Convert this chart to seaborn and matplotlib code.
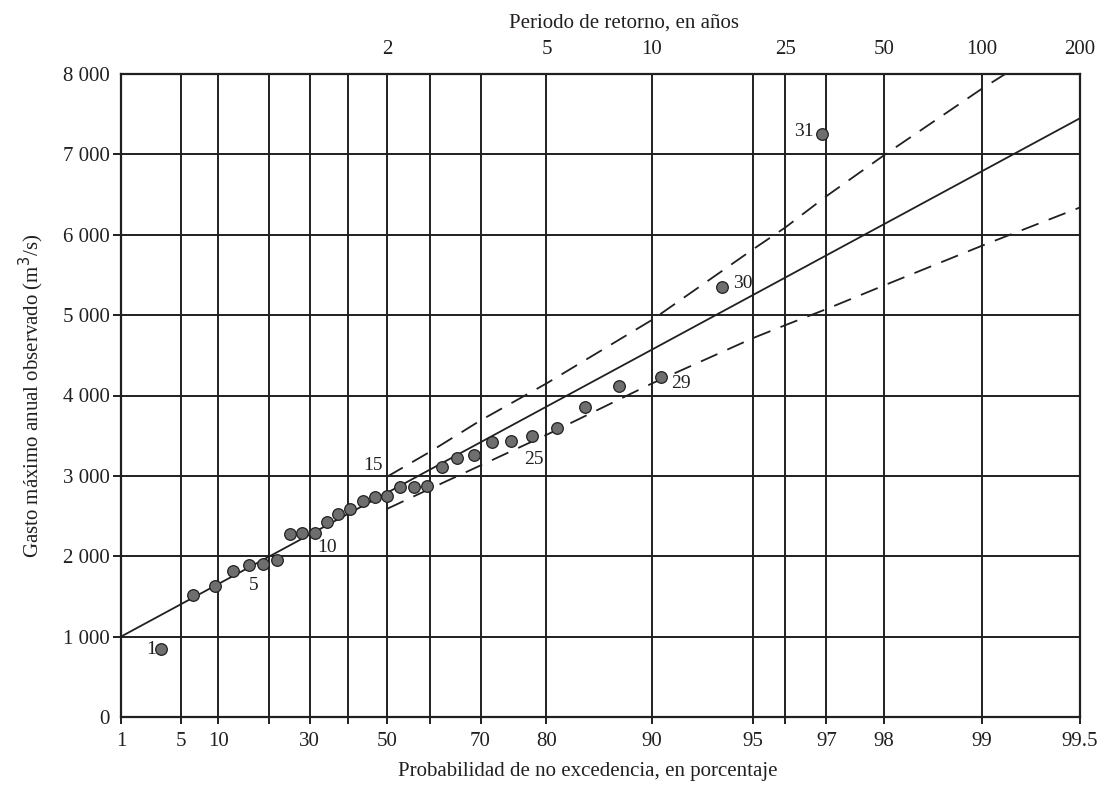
import numpy as np
import pandas as pd
import matplotlib
matplotlib.use("Agg")
import matplotlib.pyplot as plt
import seaborn as sns

# ---------------------------------------------------------------
# DATA (read from the Gumbel probability paper)
# ---------------------------------------------------------------
# plotting position of each ranked flow, % of non-exceedance
prob_obs = [3.1, 6.3, 9.4, 12.5, 15.6, 18.8, 21.9, 25.0, 28.1, 31.3,
            34.4, 37.5, 40.6, 43.8, 46.9, 50.0, 53.1, 56.3, 59.4, 62.5,
            65.6, 68.8, 71.9, 75.0, 78.1, 81.3, 84.4, 87.5, 90.6, 93.8, 96.9]
gasto_obs = [840, 1520, 1630, 1820, 1890, 1900, 1950, 2280, 2290, 2295,
             2430, 2520, 2590, 2690, 2740, 2750, 2860, 2860, 2880, 3110,
             3220, 3260, 3420, 3440, 3500, 3600, 3860, 4120, 4230, 5350, 7260]

# fitted Gumbel line
prob_fit = [1, 99.5]
gasto_fit = [1000, 7450]

# confidence limits (dashed)
prob_sup = [50, 60, 70, 80, 90, 95, 96, 97, 98, 99, 99.15]
gasto_sup = [2990, 3300, 3690, 4150, 4940, 5820, 6090, 6480, 6990, 7820, 8000]
prob_inf = [50, 60, 70, 80, 90, 95, 96, 97, 98, 99, 99.5]
gasto_inf = [2590, 2840, 3130, 3510, 4150, 4715, 4875, 5075, 5370, 5865, 6340]

# axis ticks
prob_grid = [1, 5, 10, 20, 30, 40, 50, 60, 70, 80, 90, 95, 96, 97, 98, 99, 99.5]
prob_labels = ["1", "5", "10", "", "30", "", "50", "", "70", "80", "90",
               "95", "", "97", "98", "99", "99.5"]
periodo_prob = [50, 80, 90, 96, 98, 99, 99.5]
periodo_labels = ["2", "5", "10", "25", "50", "100", "200"]
gasto_ticks = [0, 1000, 2000, 3000, 4000, 5000, 6000, 7000, 8000]

# rank numbers written beside some points
rank_labels = [1, 5, 10, 15, 25, 29, 30, 31]

df_obs = pd.DataFrame({"p": prob_obs, "Q": gasto_obs})
df_obs["rank"] = np.arange(1, len(df_obs) + 1)


# Gumbel reduced variate as axis scale
def gumbel_fwd(p):
    p = np.clip(np.asarray(p, dtype=float) / 100.0, 1e-9, 1 - 1e-9)
    return -np.log(-np.log(p))


def gumbel_inv(u):
    return 100.0 * np.exp(-np.exp(-np.asarray(u, dtype=float)))


# ---------------------------------------------------------------
# STYLE
# ---------------------------------------------------------------
sns.set_style("white")
plt.rcParams["font.family"] = ["Liberation Serif", "DejaVu Serif"]
INK = "#231f20"
FS = 15

fig, ax = plt.subplots(figsize=(10.99, 7.91), dpi=100)
fig.subplots_adjust(left=0.1101, right=0.9827, bottom=0.0936, top=0.9064)

ax.set_xscale("function", functions=(gumbel_fwd, gumbel_inv))
ax.set_xlim(1, 99.5)
ax.set_ylim(0, 8000)

# lines
sns.lineplot(x=prob_fit, y=gasto_fit, ax=ax, color=INK, lw=1.3,
             sort=False, zorder=3)
sns.lineplot(x=prob_sup, y=gasto_sup, ax=ax, color=INK, lw=1.3,
             sort=False, linestyle=(0, (10, 6)), zorder=3)
sns.lineplot(x=prob_inf, y=gasto_inf, ax=ax, color=INK, lw=1.3,
             sort=False, linestyle=(0, (10, 6)), zorder=3)

# observed points
sns.scatterplot(data=df_obs, x="p", y="Q", ax=ax, s=70, color="#6e6e6e",
                edgecolor=INK, linewidth=0.9, zorder=4)

# rank annotations (pixel offsets from the point)
offsets = {1: (-5, 0, "right"), 5: (5, -20, "center"), 10: (12, -15, "center"),
           15: (-2, 31, "center"), 25: (2, -24, "center"), 29: (20, -6, "center"),
           30: (21, 4, "center"), 31: (-8, 2, "right")}
for r in rank_labels:
    row = df_obs[df_obs["rank"] == r].iloc[0]
    dx, dy, ha = offsets[r]
    ax.annotate(str(r), (row["p"], row["Q"]), xytext=(dx, dy),
                textcoords="offset pixels", ha=ha, va="center",
                fontsize=14, color=INK, zorder=5)

# grid / ticks
ax.set_xticks(prob_grid)
ax.set_xticklabels(prob_labels)
ax.set_yticks(gasto_ticks)
ax.set_yticklabels([f"{v:,}".replace(",", " ") for v in gasto_ticks])
ax.grid(True, color=INK, lw=1.4, zorder=1)
ax.tick_params(axis="x", direction="out", length=5, width=1.4, color=INK,
               pad=6, labelsize=FS, labelcolor=INK, bottom=True)
ax.tick_params(axis="y", direction="out", length=6, width=1.4, color=INK,
               pad=2, labelsize=FS, labelcolor=INK, left=True)
ax.yaxis.get_major_ticks()[0].tick1line.set_visible(False)
ax.yaxis.get_major_ticks()[-1].tick1line.set_visible(False)
for s in ax.spines.values():
    s.set_color(INK)
    s.set_linewidth(1.6)
    s.set_visible(True)

ax.set_xlabel("Probabilidad de no excedencia, en porcentaje",
              fontsize=FS, color=INK)
ax.xaxis.set_label_coords(0.487, -0.07)
ax.set_ylabel("Gasto máximo anual observado (m$^3$/s)", fontsize=FS, color=INK)
ax.yaxis.set_label_coords(-0.078, 0.5)

# top axis: return period
ax_top = ax.twiny()
ax_top.set_xscale("function", functions=(gumbel_fwd, gumbel_inv))
ax_top.set_xlim(1, 99.5)
ax_top.set_xticks(periodo_prob)
ax_top.set_xticklabels(periodo_labels)
ax_top.tick_params(axis="x", length=0, pad=11, labelsize=FS, labelcolor=INK)
ax_top.set_xlabel("Periodo de retorno, en años", fontsize=FS, color=INK)
ax_top.xaxis.set_label_coords(0.524, 1.08)
ax_top.xaxis.label.set_va("center")
for s in ax_top.spines.values():
    s.set_visible(False)

fig.savefig("out.png", dpi=100)
